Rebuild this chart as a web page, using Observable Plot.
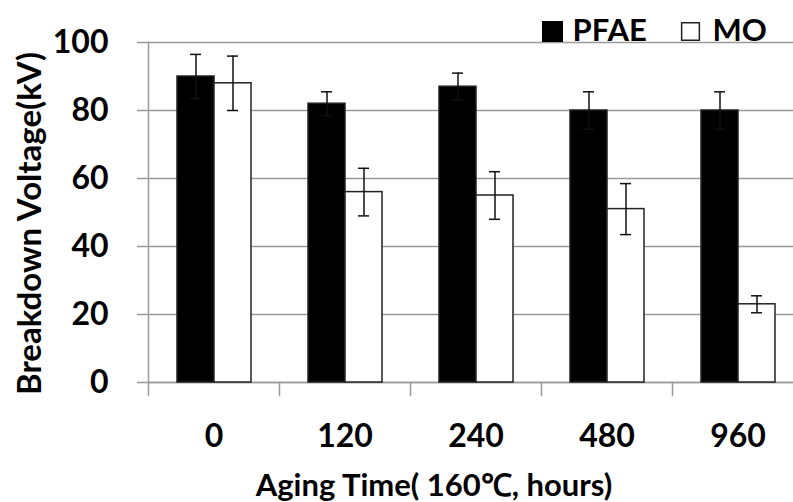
<!DOCTYPE html>
<html>
<head>
<meta charset="utf-8">
<script src="https://cdn.jsdelivr.net/npm/d3@7"></script>
<script src="https://cdn.jsdelivr.net/npm/@observablehq/plot@0.6"></script>
<style>
  html, body { margin: 0; padding: 0; background: white; }
</style>
</head>
<body>
<div id="chart"></div>
<script>
const times = ["0", "120", "240", "480", "960"];
const series = ["PFAE", "MO"];
const pfae = [90, 82, 87, 80, 80];
const pfaeErr = [6.5, 3.5, 4, 5.5, 5.5];
const mo = [88, 56, 55, 51, 23];
const moErr = [8, 7, 7, 7.5, 2.5];
const yTicks = [0, 20, 40, 60, 80, 100];
const yTitle = "Breakdown Voltage(kV)";
const xTitle = "Aging Time( 160℃, hours)";

const data = times.flatMap((t, i) => [
  {time: t, series: "PFAE", value: pfae[i], err: pfaeErr[i]},
  {time: t, series: "MO", value: mo[i], err: moErr[i]}
]);

const grid = "#9a9a9a";

const chart = Plot.plot({
  width: 793,
  height: 502,
  marginTop: 42,
  marginBottom: 120,
  marginLeft: 147,
  marginRight: -10,
  style: {fontFamily: "Lato, 'Open Sans', sans-serif", fontWeight: "bold", background: "white", color: "black"},
  fx: {domain: times, padding: 0, axis: null, label: null},
  x: {domain: series, paddingInner: 0, paddingOuter: 0.747, axis: null},
  y: {domain: [0, 100], axis: null},
  color: {domain: series, range: ["black", "white"]},
  marks: [
    Plot.gridY(yTicks, {stroke: grid, strokeOpacity: 1, strokeWidth: 1.5}),
    Plot.axisY(yTicks, {tickSize: 11, tickPadding: 29, fontSize: 32, stroke: grid, strokeWidth: 1.5, label: null}),
    Plot.frame({anchor: "left", facetAnchor: "left", stroke: grid, strokeWidth: 1.5}),
    Plot.frame({anchor: "left", insetTop: 340, insetBottom: -13, stroke: grid, strokeWidth: 1.5}),
    Plot.ruleY([0], {stroke: grid, strokeWidth: 1.5}),
    Plot.barY(data, {fx: "time", x: "series", y: "value", fill: "series", stroke: "#222", strokeWidth: 1.5}),
    Plot.ruleX(data, {fx: "time", x: "series", y1: d => d.value - d.err, y2: d => d.value + d.err, stroke: "#111", strokeWidth: 1.5}),
    Plot.tickY(data, {fx: "time", x: "series", y: d => d.value + d.err, insetLeft: 13, insetRight: 13, stroke: "#111", strokeWidth: 1.5}),
    Plot.tickY(data, {fx: "time", x: "series", y: d => d.value - d.err, insetLeft: 13, insetRight: 13, stroke: "#111", strokeWidth: 1.5}),
    Plot.axisFx({domain: times, anchor: "bottom", tickSize: 0, tickPadding: 42, fontSize: 32, label: null}),
    // legend
    Plot.dot([series[0]], {facet: "super", frameAnchor: "top-left", dx: 404, dy: -11, symbol: "square", r: 11, fill: "black", stroke: "black"}),
    Plot.text([series[0]], {facet: "super", frameAnchor: "top-left", dx: 424, dy: -11, text: d => d, textAnchor: "start", lineAnchor: "middle", fontSize: 31, fill: "black"}),
    Plot.dot([series[1]], {facet: "super", frameAnchor: "top-left", dx: 542, dy: -11, symbol: "square", r: 10, fill: "white", stroke: "#222", strokeWidth: 1.5}),
    Plot.text([series[1]], {facet: "super", frameAnchor: "top-left", dx: 564, dy: -11, text: d => d, textAnchor: "start", lineAnchor: "middle", fontSize: 31, fill: "black"}),
    // axis titles
    Plot.text([yTitle], {facet: "super", frameAnchor: "left", dx: -118, dy: 11, rotate: -90, text: d => d, textAnchor: "middle", lineAnchor: "middle", fontSize: 33, fill: "black"}),
    Plot.text([xTitle], {facet: "super", frameAnchor: "bottom", dx: -42, dy: 104, text: d => d, textAnchor: "middle", lineAnchor: "middle", fontSize: 31, fill: "black"})
  ]
});

document.getElementById("chart").appendChild(chart);
</script>
</body>
</html>
